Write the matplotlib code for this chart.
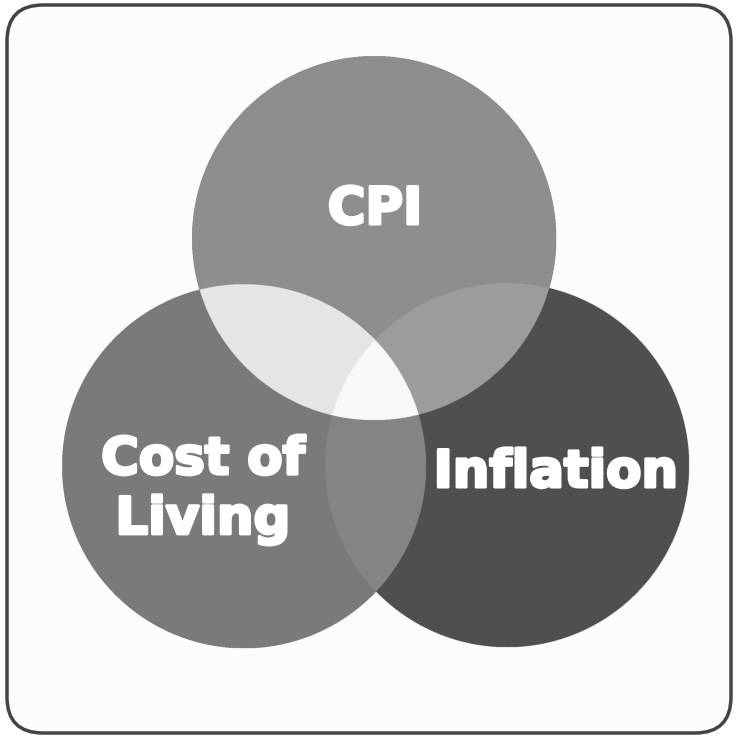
import numpy as np
import matplotlib
matplotlib.use("Agg")
import matplotlib.pyplot as plt
import matplotlib.patches as patches
import matplotlib.patheffects as pe

# circle labels and region shades
labels = ["CPI", "Cost of\nLiving", "Inflation"]
single_colors = ["#8e8e8e", "#7a7a7a", "#505050"]
# pair overlaps: (CPI,Cost), (CPI,Inflation), (Cost,Inflation)
pair_colors = ["#e6e6e6", "#9c9c9c", "#858585"]
triple_color = "#f8f8f8"

W, H = 737, 739
centers = [(374, 238), (244, 466), (507, 465)]
radius = 182
label_pos = [(375, 210), (203, 490), (556, 473)]

fig = plt.figure(figsize=(W / 100, H / 100), dpi=100)
ax = fig.add_axes([0, 0, 1, 1])
ax.set_xlim(0, W)
ax.set_ylim(H, 0)
ax.axis("off")

# rounded frame
frame = patches.FancyBboxPatch((7, 5), 724, 728,
                               boxstyle="round,pad=0,rounding_size=36",
                               facecolor="#fcfcfc", edgecolor="#444444",
                               linewidth=2.5, zorder=1)
ax.add_patch(frame)

# build the venn regions on a fine grid
s = 3
ys, xs = np.mgrid[0:H * s, 0:W * s] / s
inside = [((xs - cx) ** 2 + (ys - cy) ** 2) <= radius ** 2 for cx, cy in centers]
a, b, c = inside

def rgb(h):
    h = h.lstrip("#")
    return [int(h[i:i + 2], 16) / 255 for i in (0, 2, 4)]

img = np.zeros((H * s, W * s, 4))
for m, col in zip(inside, single_colors):
    img[m, :3] = rgb(col)
    img[m, 3] = 1
img[a & b, :3] = rgb(pair_colors[0])
img[a & c, :3] = rgb(pair_colors[1])
img[b & c, :3] = rgb(pair_colors[2])
img[a & b & c, :3] = rgb(triple_color)

ax.imshow(img, extent=(0, W, H, 0), interpolation="antialiased", zorder=2)
ax.set_xlim(0, W)
ax.set_ylim(H, 0)

heavy = [pe.withStroke(linewidth=2.2, foreground="white")]
for lab, (x, y) in zip(labels, label_pos):
    ax.text(x, y, lab, ha="center", va="center", color="white",
            fontsize=37, fontweight="bold", family="DejaVu Sans",
            linespacing=1.25, path_effects=heavy, zorder=3)

fig.savefig("out.png", dpi=100, facecolor="white")
